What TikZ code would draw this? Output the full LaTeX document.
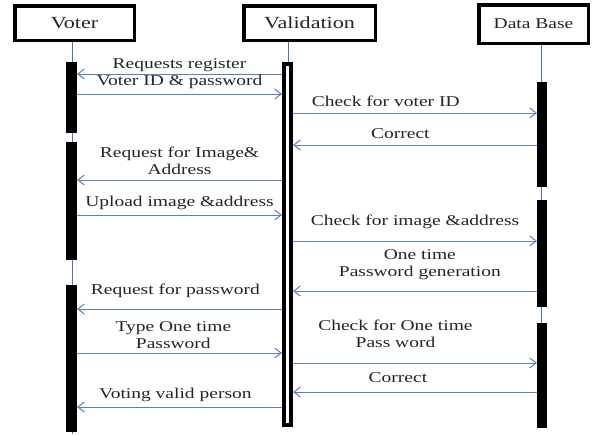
\documentclass[tikz,border=0pt]{standalone}
\usepackage{fontspec}
\setmainfont{Liberation Serif}[FakeStretch=1.3]
\usetikzlibrary{arrows.meta,positioning}
\definecolor{cmsg}{HTML}{5B7EBD}
\definecolor{cline}{HTML}{4C73B3}
\definecolor{ctext}{HTML}{23232E}
\tikzset{
  actor/.style={draw, line width=3.5pt, minimum height=34.5pt, inner sep=0pt, text=ctext, font=\fontsize{17}{20}\selectfont},
  bar/.style={draw, fill=black, line width=4.5pt, minimum width=6.5pt, inner sep=0pt},
  vbar/.style={bar, fill=white, line width=4pt, minimum width=7pt},
  dbar/.style={bar, line width=4.25pt, minimum width=5.75pt},
  life/.style={draw=cline, line width=0.8pt},
  msg/.style={draw=cmsg, line width=1pt, -{Straight Barb[length=6.5pt,width=10pt]}},
  lbl/.style={font=\fontsize{15}{16.5}\selectfont, align=center, inner sep=1pt, text=ctext},
}
\begin{document}
\begin{tikzpicture}[x=1pt,y=-1pt]
\useasboundingbox (0,0) rectangle (601,434);
% actors
\node[actor, minimum width=119.5pt] (voter) at (74.5,23) {Voter};
\node[actor, minimum width=131.5pt] (valid) at (309.5,23) {Validation};
\node[actor, minimum width=109.5pt, minimum height=38.5pt, font=\fontsize{15}{17}\selectfont] (dbase) at (533.5,24) {Data Base};
% lifelines
\draw[life] (voter.south -| 72,0) -- (72,434);
\draw[life] (valid.south -| 288,0) -- (288,427);
\draw[life] (dbase.south -| 541,0) -- (541,428);
% activation bars
\node[bar, minimum height=66.5pt] (vot1) at (71.5,97.5) {};
\node[bar, minimum height=113.5pt] (vot2) at (71.5,201) {};
\node[bar, minimum height=142.5pt] (vot3) at (71.5,358.5) {};
\node[vbar, minimum height=361pt] (valb) at (287.5,244.5) {};
\node[dbar, minimum height=100.75pt] (db1) at (542,134.5) {};
\node[dbar, minimum height=102.75pt] (db2) at (542,253.5) {};
\node[dbar, minimum height=100.75pt] (db3) at (542,375.5) {};
% messages: y / from / to / label pos / label gap / text
\foreach \y/\a/\b/\p/\d/\t [count=\i] in {
  74/valb.west/vot1.east/0.5/1/{Requests register},
  94/vot1.east/valb.west/0.5/4/{Voter ID \& password},
  113/valb.east/db1.west/0.38/5/{Check for voter ID},
  145/db1.west/valb.east/0.56/5/{Correct},
  180/valb.west/vot2.east/0.5/4/{Request for Image\&\\Address},
  215/vot2.east/valb.west/0.5/4/{Upload image \&address},
  241/valb.east/db2.west/0.5/11/{Check for image \&address},
  291/db2.west/valb.east/0.48/10/{One time\\Password generation},
  309/valb.west/vot3.east/0.52/10/{Request for password},
  353/vot3.east/valb.west/0.47/3/{Type One time\\Password},
  363/valb.east/db3.west/0.42/14/{Check for One time\\Pass word},
  392/db3.west/valb.east/0.57/8/{Correct},
  407/valb.west/vot3.east/0.52/4/{Voting valid person}}{
  \draw[msg] (\a |- 0,\y) -- (\b |- 0,\y) node[lbl, pos=\p, above=\d pt] (m\i) {\t};
}
\end{tikzpicture}
\end{document}
